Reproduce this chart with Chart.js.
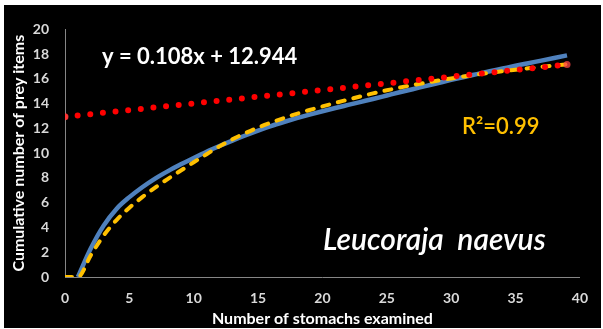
<!DOCTYPE html>
<html>
<head>
<meta charset="utf-8">
<script src="https://cdn.jsdelivr.net/npm/chart.js@4"></script>
<style>
  html, body { margin: 0; padding: 0; background: #fff; }
  #box { position: absolute; left: 4px; top: 5px; width: 597px; height: 323px; background: #000; }
</style>
</head>
<body>
<div id="box"><canvas id="curveChart" width="597" height="323"></canvas></div>
<script>
// Curva cumulativa de presas - Leucoraja naevus
const stomachs = [0, 1, 2, 3, 4, 5, 6, 7, 8, 9, 10, 11, 12, 13, 14, 15, 16, 17, 18, 19,
  20, 21, 22, 23, 24, 25, 26, 27, 28, 29, 30, 31, 32, 33, 34, 35, 36, 37, 38, 39];
const preyItems = [null, 0, 2.3, 4.15, 5.5, 6.45, 7.25, 7.95, 8.55, 9.1, 9.62, 10.12, 10.58, 11.02, 11.43, 11.82,
  12.19, 12.52, 12.83, 13.12, 13.39, 13.65, 13.9, 14.15, 14.4, 14.66, 14.92, 15.17, 15.42, 15.67,
  15.92, 16.16, 16.39, 16.62, 16.84, 17.06, 17.27, 17.48, 17.69, 17.9];
const fittedCurve = [0, 0, 1.75, 3.35, 4.6, 5.6, 6.45, 7.22, 7.93, 8.6, 9.27, 9.92, 10.55, 11.12, 11.62, 12.07,
  12.47, 12.84, 13.18, 13.49, 13.78, 14.06, 14.33, 14.6, 14.85, 15.08, 15.3, 15.5, 15.69, 15.87,
  16.04, 16.2, 16.35, 16.49, 16.62, 16.74, 16.86, 16.97, 17.08, 17.18];
const trendX = [0, 39];
const trendY = [12.944, 17.156];
const xTicks = [0, 5, 10, 15, 20, 25, 30, 35, 40];
const yTicks = [0, 2, 4, 6, 8, 10, 12, 14, 16, 18, 20];

const equationText = 'y = 0.108x + 12.944';
const r2Text = 'R\u00B2=0.99';
const speciesText = 'Leucoraja  naevus';

const FONT = 'Lato';

// textos dentro do gráfico
const annotations = {
  id: 'annotations',
  afterDatasetsDraw(chart) {
    const c = chart.ctx;
    c.save();
    c.textBaseline = 'alphabetic';
    c.fillStyle = '#ffffff';
    c.font = 'bold 22px ' + FONT;
    c.fillText(equationText, 98, 59);
    c.fillStyle = '#FFC000';
    c.font = '600 22px ' + FONT;
    c.fillText(r2Text, 458, 129);
    c.fillStyle = '#ffffff';
    c.font = 'italic 600 30px ' + FONT;
    c.fillText(speciesText, 319, 245);
    c.restore();
  }
};

const ctx = document.getElementById('curveChart').getContext('2d');

new Chart(ctx, {
  type: 'line',
  data: {
    datasets: [{
      label: 'Linear',
      data: trendX.map((x, i) => ({ x: x, y: trendY[i] })),
      borderColor: '#ff0000',
      borderWidth: 6,
      borderDash: [0, 12.7],
      borderCapStyle: 'round',
      pointRadius: 3.5,
      pointBackgroundColor: 'rgba(255, 70, 70, 0.75)',
      pointBorderWidth: 0,
      fill: false
    }, {
      label: 'Fit',
      data: stomachs.map((x, i) => ({ x: x, y: fittedCurve[i] })),
      borderColor: '#FFC000',
      borderWidth: 4,
      borderDash: [7, 9],
      borderCapStyle: 'round',
      cubicInterpolationMode: 'monotone',
      pointRadius: 0,
      fill: false
    }, {
      label: 'Cumulative',
      data: stomachs.map((x, i) => ({ x: x, y: preyItems[i] })),
      borderColor: '#4F81BD',
      borderWidth: 4.5,
      cubicInterpolationMode: 'monotone',
      pointRadius: 0,
      fill: false
    }]
  },
  options: {
    responsive: false,
    animation: false,
    layout: { padding: { top: 17, right: 16, left: 0, bottom: 0 } },
    plugins: {
      legend: { display: false },
      tooltip: { enabled: false }
    },
    scales: {
      x: {
        type: 'linear',
        min: 0,
        max: 40,
        afterFit: function(scale) { scale.height = 51; },
        afterBuildTicks: function(scale) { scale.ticks = xTicks.map(v => ({ value: v })); },
        grid: { display: false, drawTicks: false },
        border: { color: '#868686', width: 1 },
        ticks: { color: '#d9d9d9', padding: 13, font: { family: FONT, size: 14, weight: 'bold' } },
        title: {
          display: true,
          text: 'Number of stomachs examined',
          color: '#ffffff',
          padding: { top: 2, bottom: 0 },
          font: { family: FONT, size: 16, weight: 'bold' }
        }
      },
      y: {
        min: 0,
        max: 20,
        afterFit: function(scale) { scale.width = 61; },
        afterBuildTicks: function(scale) { scale.ticks = yTicks.map(v => ({ value: v })); },
        grid: { display: false, drawTicks: false },
        border: { color: '#868686', width: 1 },
        ticks: { color: '#d9d9d9', padding: 16, font: { family: FONT, size: 14, weight: 'bold' } },
        title: {
          display: true,
          text: 'Cumulative number of prey items',
          color: '#ffffff',
          padding: { top: 5, bottom: 0 },
          font: { family: FONT, size: 16, weight: 'bold' }
        }
      }
    }
  },
  plugins: [annotations]
});
</script>
</body>
</html>
